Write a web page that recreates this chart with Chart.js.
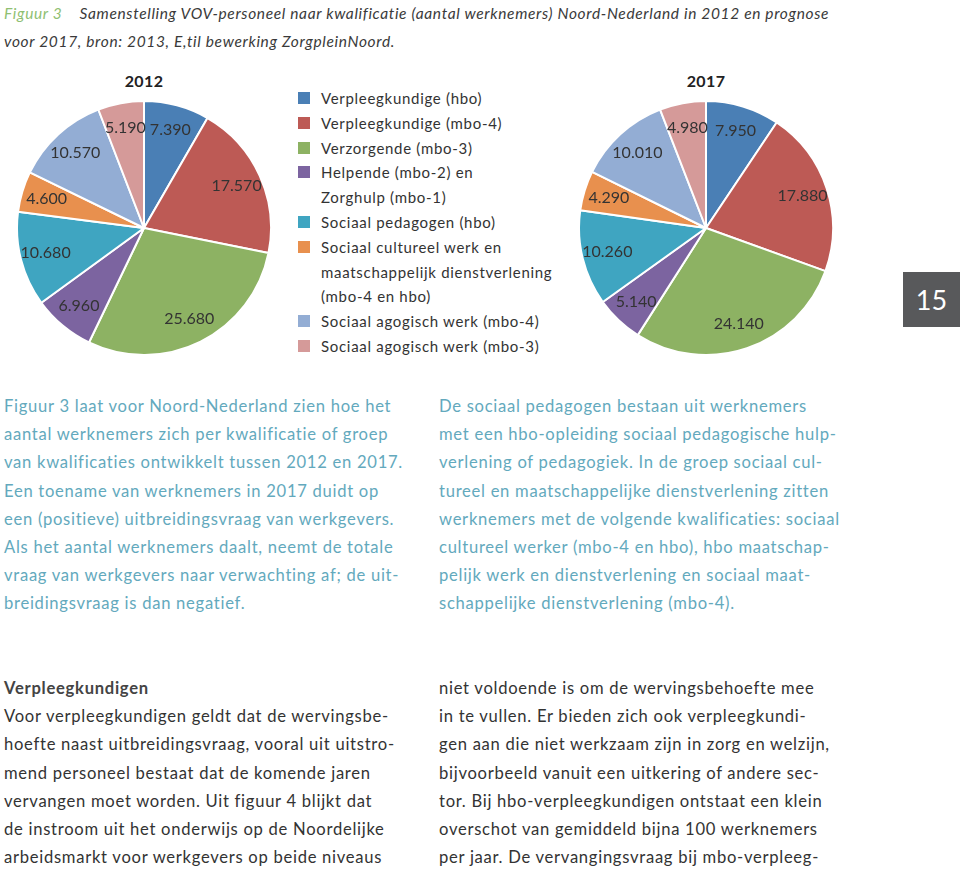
<!DOCTYPE html>
<html>
<head>
<meta charset="utf-8">
<script src="https://cdn.jsdelivr.net/npm/chart.js@4/dist/chart.umd.min.js"></script>
<style>
  body { margin: 0; width: 960px; height: 869px; background: #fff; position: relative; overflow: hidden; font-family: "Lato", sans-serif; }
  .abs { position: absolute; white-space: nowrap; }
  .cap { font-style: italic; font-size: 15.5px; color: #3a3a3a; letter-spacing: 0.65px; }
  .cap .fig { color: #8fbf72; }
  .year { font-weight: bold; font-size: 16px; color: #222; transform: translateX(-50%); letter-spacing: 0.4px; }
  #legend { left: 298px; top: 86px; font-size: 15px; color: #333; line-height: 24.8px; letter-spacing: 0.7px; }
  #legend .item { position: relative; padding-left: 23px; }
  #legend .sw { position: absolute; left: 0; top: 6px; width: 12px; height: 12px; }
  .para { font-size: 16.6px; line-height: 28.2px; letter-spacing: 0.72px; }
  .teal { color: #63a9bd; }
  .dark { color: #333; }
  .pagebox { left: 903px; top: 272px; width: 57px; height: 55px; background: #58595b; color: #fff; font-size: 27px; text-align: center; line-height: 55px; }
  canvas { position: absolute; }
</style>
</head>
<body>
<div class="abs cap" style="left:4px; top:4px;"><span class="fig">Figuur 3</span>&nbsp;&nbsp;&nbsp; Samenstelling VOV-personeel naar kwalificatie (aantal werknemers) Noord-Nederland in 2012 en prognose</div>
<div class="abs cap" style="left:4px; top:32px;">voor 2017, bron: 2013, E,til bewerking ZorgpleinNoord.</div>

<div class="abs year" style="left:144px; top:71px;">2012</div>
<div class="abs year" style="left:706px; top:71px;">2017</div>

<div style="position:absolute; left:16px; top:100px; width:256px; height:256px;"><canvas id="pie2012"></canvas></div>
<div style="position:absolute; left:578px; top:100px; width:256px; height:256px;"><canvas id="pie2017"></canvas></div>

<div id="legend" class="abs"></div>

<div class="abs pagebox">15</div>

<div class="abs para teal" style="left:4px; top:392px;">
Figuur 3 laat voor Noord-Nederland zien hoe het<br>
aantal werknemers zich per kwalificatie of groep<br>
van kwalificaties ontwikkelt tussen 2012 en 2017.<br>
Een toename van werknemers in 2017 duidt op<br>
een (positieve) uitbreidingsvraag van werkgevers.<br>
Als het aantal werknemers daalt, neemt de totale<br>
vraag van werkgevers naar verwachting af; de uit-<br>
breidingsvraag is dan negatief.
</div>
<div class="abs para teal" style="left:439px; top:392px;">
De sociaal pedagogen bestaan uit werknemers<br>
met een hbo-opleiding sociaal pedagogische hulp-<br>
verlening of pedagogiek. In de groep sociaal cul-<br>
tureel en maatschappelijke dienstverlening zitten<br>
werknemers met de volgende kwalificaties: sociaal<br>
cultureel werker (mbo-4 en hbo), hbo maatschap-<br>
pelijk werk en dienstverlening en sociaal maat-<br>
schappelijke dienstverlening (mbo-4).
</div>

<div class="abs para dark" style="left:4px; top:674px;">
<b style="color:#444;">Verpleegkundigen</b><br>
Voor verpleegkundigen geldt dat de wervingsbe-<br>
hoefte naast uitbreidingsvraag, vooral uit uitstro-<br>
mend personeel bestaat dat de komende jaren<br>
vervangen moet worden. Uit figuur 4 blijkt dat<br>
de instroom uit het onderwijs op de Noordelijke<br>
arbeidsmarkt voor werkgevers op beide niveaus
</div>
<div class="abs para dark" style="left:439px; top:674px;">
niet voldoende is om de wervingsbehoefte mee<br>
in te vullen. Er bieden zich ook verpleegkundi-<br>
gen aan die niet werkzaam zijn in zorg en welzijn,<br>
bijvoorbeeld vanuit een uitkering of andere sec-<br>
tor. Bij hbo-verpleegkundigen ontstaat een klein<br>
overschot van gemiddeld bijna 100 werknemers<br>
per jaar. De vervangingsvraag bij mbo-verpleeg-
</div>

<script>
// categories (legend text, with the line breaks of the original)
const categories = [
    ["Verpleegkundige (hbo)"],
    ["Verpleegkundige (mbo-4)"],
    ["Verzorgende (mbo-3)"],
    ["Helpende (mbo-2) en", "Zorghulp (mbo-1)"],
    ["Sociaal pedagogen (hbo)"],
    ["Sociaal cultureel werk en", "maatschappelijk dienstverlening", "(mbo-4 en hbo)"],
    ["Sociaal agogisch werk (mbo-4)"],
    ["Sociaal agogisch werk (mbo-3)"]
];
const values2012 = [7390, 17570, 25680, 6960, 10680, 4600, 10570, 5190];
const values2017 = [7950, 17880, 24140, 5140, 10260, 4290, 10010, 4980];

const sliceColors = ['#4a7fb5', '#bd5a55', '#8db263', '#7c64a0', '#3fa5c1', '#e8904e', '#93add4', '#d59a99'];

// Dutch thousands separator: 7390 -> 7.390
function formatNL(v) {
    return v.toString().replace(/\B(?=(\d{3})+(?!\d))/g, '.');
}

// build legend
const legendEl = document.getElementById('legend');
categories.forEach((lines, i) => {
    const item = document.createElement('div');
    item.className = 'item';
    item.innerHTML = '<span class="sw" style="background:' + sliceColors[i] + '"></span>' + lines.join('<br>');
    legendEl.appendChild(item);
});

// draw the value labels inside the slices
const sliceLabels = {
    id: 'sliceLabels',
    afterDatasetsDraw(chart) {
        const ctx = chart.ctx;
        const data = chart.data.datasets[0].data;
        ctx.save();
        ctx.font = '16px Lato, sans-serif';
        ctx.fillStyle = '#333';
        ctx.textAlign = 'center';
        ctx.textBaseline = 'middle';
        chart.getDatasetMeta(0).data.forEach((arc, i) => {
            const p = arc.getProps(['x', 'y', 'startAngle', 'endAngle', 'outerRadius'], true);
            const mid = (p.startAngle + p.endAngle) / 2;
            const r = p.outerRadius * 0.8;
            ctx.fillText(formatNL(data[i]), p.x + Math.cos(mid) * r, p.y + Math.sin(mid) * r);
        });
        ctx.restore();
    }
};

function makePie(id, values) {
    return new Chart(document.getElementById(id).getContext('2d'), {
        type: 'pie',
        data: {
            labels: categories.map(l => l.join(' ')),
            datasets: [{
                data: values,
                backgroundColor: sliceColors,
                borderColor: '#ffffff',
                borderWidth: 2
            }]
        },
        options: {
            responsive: true,
            maintainAspectRatio: false,
            animation: false,
            layout: { padding: 0 },
            plugins: {
                legend: { display: false },
                tooltip: { enabled: false }
            }
        },
        plugins: [sliceLabels]
    });
}

const chart2012 = makePie('pie2012', values2012);
const chart2017 = makePie('pie2017', values2017);
</script>
</body>
</html>
